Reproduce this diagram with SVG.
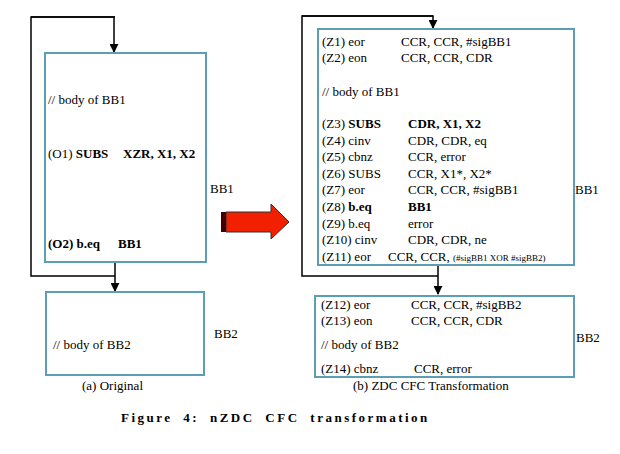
<svg xmlns="http://www.w3.org/2000/svg" width="620" height="454" viewBox="0 0 620 454" font-family="Liberation Serif, Times New Roman, serif">
<style>
text{font-family:'Liberation Serif','Times New Roman',serif;font-size:13px;fill:#000}
.b{font-weight:bold}
.box{fill:#fff;stroke:#5a9fb4;stroke-width:2}
.ln{fill:none;stroke:#000;stroke-width:1.5}
.sm{font-size:9px}
</style>
<defs><marker id="ah" viewBox="0 0 10 10" refX="9" refY="5" markerWidth="6" markerHeight="6" orient="auto"><path d="M0,0L10,5L0,10z" fill="#000"/></marker></defs>
<rect width="620" height="454" fill="#fff"/>
<g id="connectors">
<path class="ln" d="M115,17H31V276H115" />
<path class="ln" d="M31,17H114V52" marker-end="url(#ah)"/>
<path class="ln" d="M115,263V291" marker-end="url(#ah)"/>
<path class="ln" d="M302,16H433V28" marker-end="url(#ah)"/>
<path class="ln" d="M433,16H302V276H438"/>
<path class="ln" d="M438,266V294" marker-end="url(#ah)"/>
</g>
<g id="orig-bb1">
<rect class="box" x="45" y="53" width="161" height="209"/>
<text x="48" y="104">// body of BB1</text>
<text x="48" y="158">(O1) <tspan class="b">SUBS</tspan><tspan class="b" x="123">XZR, X1, X2</tspan></text>
<text x="48" y="248" class="b">(O2) b.eq<tspan x="118">BB1</tspan></text>
<text x="210" y="193" font-size="14">BB1</text>
</g>
<g id="orig-bb2">
<rect class="box" x="46" y="292" width="158" height="83"/>
<text x="53" y="349">// body of BB2</text>
<text x="214" y="338" font-size="14">BB2</text>
<text x="82" y="390">(a) Original</text>
</g>
<g id="arrow">
<path d="M226,212H271V204L289,222L271,239V232H226Z" fill="#f02000" stroke="#333" stroke-width="1"/>
<rect x="221" y="212" width="5" height="20" fill="#400"/>
</g>
<g id="zdc-bb1">
<rect class="box" x="318" y="29" width="256" height="236"/>
<text x="322" y="46">(Z1) eor<tspan x="401">CCR, CCR, #sigBB1</tspan></text>
<text x="322" y="62">(Z2) eon<tspan x="401">CCR, CCR, CDR</tspan></text>
<text x="322" y="96">// body of BB1</text>
<text x="322" y="128">(Z3) <tspan class="b">SUBS</tspan><tspan class="b" x="408">CDR, X1, X2</tspan></text>
<text x="322" y="145">(Z4) cinv<tspan x="408">CDR, CDR, eq</tspan></text>
<text x="322" y="161">(Z5) cbnz<tspan x="408">CCR, error</tspan></text>
<text x="322" y="178">(Z6) SUBS<tspan x="408">CCR, X1*, X2*</tspan></text>
<text x="322" y="194">(Z7) eor<tspan x="408">CCR, CCR, #sigBB1</tspan></text>
<text x="322" y="211">(Z8) <tspan class="b">b.eq</tspan><tspan class="b" x="408">BB1</tspan></text>
<text x="322" y="228">(Z9) b.eq<tspan x="408">error</tspan></text>
<text x="322" y="244">(Z10) cinv<tspan x="408">CDR, CDR, ne</tspan></text>
<text x="322" y="261">(Z11) eor<tspan x="388">CCR, CCR, </tspan><tspan class="sm">(#sigBB1 XOR #sigBB2)</tspan></text>
<text x="575" y="194" font-size="14">BB1</text>
</g>
<g id="zdc-bb2">
<rect class="box" x="315" y="296" width="259" height="81"/>
<text x="321" y="309">(Z12) eor<tspan x="411">CCR, CCR, #sigBB2</tspan></text>
<text x="321" y="325">(Z13) eon<tspan x="411">CCR, CCR, CDR</tspan></text>
<text x="321" y="349">// body of BB2</text>
<text x="321" y="373">(Z14) cbnz<tspan x="414">CCR, error</tspan></text>
<text x="576" y="342" font-size="14">BB2</text>
<text x="353" y="390">(b) ZDC CFC Transformation</text>
</g>
<text x="121" y="422" class="b" font-size="20" letter-spacing="2.5" word-spacing="5">Figure 4: nZDC CFC transformation</text>
</svg>
